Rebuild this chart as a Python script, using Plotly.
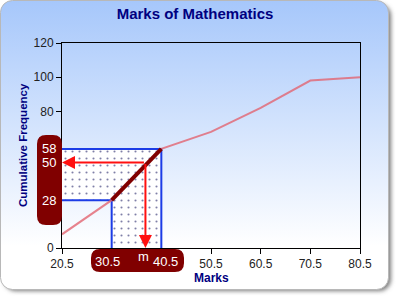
import base64
import plotly.graph_objects as go

# ---- data ----
marks = [20.5, 30.5, 40.5, 50.5, 60.5, 70.5, 80.5]
cum_freq = [8, 28, 58, 68, 82, 98, 100]
class_lo, class_hi = 30.5, 40.5
cf_lo, cf_hi = 28, 58
half_n = 50
median_m = 37.3
y_ticks = [0, 20, 40, 60, 80, 100, 120]

W, H = 400, 300
L, R, T, B = 62, 40, 43, 52
PW, PH = W - L - R, H - T - B

def px2x(px):
    return (px - L) / PW

def px2y(py):
    return (H - B - py) / PH

def rrect(x0, y0, x1, y1, r):
    # rounded rectangle in paper coords from pixel box
    rx, ry = r / PW, r / PH
    X0, X1 = px2x(x0), px2x(x1)
    Yt, Yb = px2y(y0), px2y(y1)
    return (f"M{X0+rx},{Yt} L{X1-rx},{Yt} Q{X1},{Yt} {X1},{Yt-ry} "
            f"L{X1},{Yb+ry} Q{X1},{Yb} {X1-rx},{Yb} L{X0+rx},{Yb} "
            f"Q{X0},{Yb} {X0},{Yb+ry} L{X0},{Yt-ry} Q{X0},{Yt} {X0+rx},{Yt} Z")

svg = f"""<svg xmlns='http://www.w3.org/2000/svg' width='{W}' height='{H}'>
<defs>
<linearGradient id='g' x1='0' y1='0' x2='0' y2='1'>
<stop offset='0' stop-color='#a6c7fb'/>
<stop offset='0.85' stop-color='#ffffff'/>
<stop offset='1' stop-color='#ffffff'/>
</linearGradient>
<filter id='s' x='-10%' y='-10%' width='130%' height='130%'><feGaussianBlur stdDeviation='2.2'/></filter>
</defs>
<rect x='4' y='4' width='387' height='287' rx='12' fill='#7a7a7a' filter='url(#s)'/>
<rect x='0.5' y='0.5' width='388' height='289' rx='12' fill='url(#g)' stroke='#b8b8b8' stroke-width='1'/>
</svg>"""
src = "data:image/svg+xml;base64," + base64.b64encode(svg.encode()).decode()

x0 = marks[0]
fig = go.Figure()

# dotted L-shaped region
fig.add_trace(go.Scatter(
    x=[x0, x0, class_hi, class_hi, class_lo, class_lo, x0],
    y=[cf_lo, cf_hi, cf_hi, 0, 0, cf_lo, cf_lo],
    mode="lines", fill="toself", line=dict(width=0), fillcolor="white",
    fillpattern=dict(shape=".", fgcolor="#000050", bgcolor="white", size=7, solidity=0.07),
    hoverinfo="skip", showlegend=False))

# blue guide lines
fig.add_trace(go.Scatter(
    x=[x0, class_hi, class_hi, None, x0, class_lo, class_lo],
    y=[cf_hi, cf_hi, 0, None, cf_lo, cf_lo, 0],
    mode="lines", line=dict(color="#1c3ce6", width=2), showlegend=False))

# ogive
fig.add_trace(go.Scatter(
    x=marks, y=cum_freq, mode="lines",
    line=dict(color="rgba(226,100,112,0.8)", width=2), showlegend=False))

# median class segment
fig.add_trace(go.Scatter(
    x=[class_lo, class_hi], y=[cf_lo, cf_hi], mode="lines",
    line=dict(color="#800000", width=4), showlegend=False))

ann = []
# red arrows
ann.append(dict(x=x0, y=half_n, ax=median_m, ay=half_n, xref="x", yref="y",
                axref="x", ayref="y", text="", showarrow=True, arrowhead=2,
                arrowsize=1.3, arrowwidth=2, arrowcolor="#ff1010", standoff=0))
ann.append(dict(x=median_m, y=0, ax=median_m, ay=half_n, xref="x", yref="y",
                axref="x", ayref="y", text="", showarrow=True, arrowhead=2,
                arrowsize=1.3, arrowwidth=2, arrowcolor="#ff1010", standoff=0))

box_font = dict(family="Liberation Sans", size=13, color="white")
for v in [cf_hi, half_n, cf_lo]:
    ann.append(dict(x=px2x(49), y=v, xref="paper", yref="y", text=str(v),
                    showarrow=False, font=box_font, xanchor="center", yanchor="middle"))
ann.append(dict(x=class_lo, y=px2y(261), xref="x", yref="paper", text=str(class_lo),
                xshift=-4, showarrow=False, font=box_font, yanchor="middle"))
ann.append(dict(x=class_hi, y=px2y(261), xref="x", yref="paper", text=str(class_hi),
                xshift=4, showarrow=False, font=box_font, yanchor="middle"))
ann.append(dict(x=median_m, y=px2y(261), xref="x", yref="paper", text="m",
                xshift=-2, yshift=5, showarrow=False, font=box_font, yanchor="middle"))

# axis titles
ann.append(dict(x=0.5, y=px2y(278), xref="paper", yref="paper", text="<b>Marks</b>",
                showarrow=False, font=dict(family="Liberation Sans", size=12, color="#000080"),
                yanchor="middle"))
ann.append(dict(x=px2x(22.5), y=0.5, xref="paper", yref="paper",
                text="<b>Cumulative Frequency</b>", textangle=-90, showarrow=False,
                font=dict(family="Liberation Sans", size=11.5, color="#000080"),
                xanchor="center", yanchor="middle"))

shapes = [
    dict(type="path", xref="paper", yref="paper", path=rrect(37, 135, 62, 225, 9),
         fillcolor="#800000", line=dict(width=0), layer="above"),
    dict(type="path", xref="paper", yref="paper", path=rrect(91, 249, 184, 272, 9),
         fillcolor="#800000", line=dict(width=0), layer="above"),
]

xt_text = ["" if v in (class_lo, class_hi) else str(v) for v in marks]
yt_text = ["" if v in (20, 40, 60) else str(v) for v in y_ticks]

fig.update_layout(
    width=W, height=H, margin=dict(l=L, r=R, t=T, b=B),
    paper_bgcolor="white", plot_bgcolor="rgba(0,0,0,0)",
    title=dict(text="<b>Marks of Mathematics</b>", x=195 / W, xanchor="center",
               y=1 - 14 / H, yanchor="middle",
               font=dict(family="Liberation Sans", size=15, color="#000080")),
    images=[dict(source=src, xref="paper", yref="paper", x=px2x(0), y=px2y(0),
                 sizex=W / PW, sizey=H / PH, xanchor="left", yanchor="top",
                 sizing="stretch", layer="below")],
    shapes=shapes, annotations=ann,
    xaxis=dict(range=[marks[0], marks[-1]], tickvals=marks, ticktext=xt_text,
               showline=True, linecolor="black", linewidth=1, mirror=True,
               ticks="outside", ticklen=5, tickcolor="black", showgrid=False,
               zeroline=False, tickfont=dict(family="Liberation Sans", size=12, color="#222")),
    yaxis=dict(range=[0, 120], tickvals=y_ticks, ticktext=yt_text,
               showline=True, linecolor="black", linewidth=1, mirror=True,
               ticks="outside", ticklen=5, tickcolor="black", showgrid=False,
               zeroline=False, tickfont=dict(family="Liberation Sans", size=12, color="#222")),
)

fig.write_html("out.html")
